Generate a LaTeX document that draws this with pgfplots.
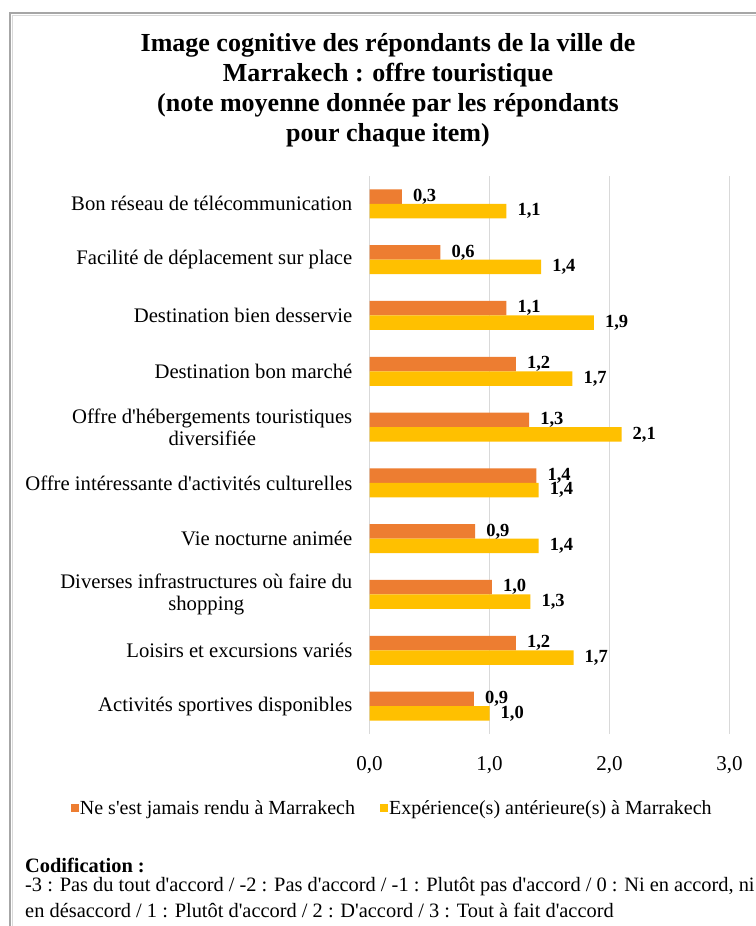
\documentclass[border=0pt]{standalone}
\usepackage{pgfplots}
\pgfplotsset{compat=1.18}
\usepackage{fontspec}
\setmainfont{Liberation Serif}[Ligatures=TeXOff]
\definecolor{orangebar}{HTML}{ED7D31}
\definecolor{yellowbar}{HTML}{FFC000}
\definecolor{gridgray}{HTML}{D9D9D9}
\definecolor{framegray}{HTML}{A6A6A6}
\begin{document}
\begin{tikzpicture}
\useasboundingbox (0pt,0pt) rectangle (755pt,926pt);
\fill[white] (0pt,0pt) rectangle (755pt,926pt);
% frame
\draw[framegray, line width=2.5pt] (10pt,0pt) -- (10pt,913pt) -- (756pt,913pt);
\draw[gridgray, line width=1pt] (12.5pt,0pt) -- (12.5pt,910.5pt) -- (756pt,910.5pt);
% title
\node[align=center, font=\fontsize{26}{30}\selectfont\bfseries] at (388pt,836pt)
  {Image cognitive des répondants de la ville de\\Marrakech : offre touristique\\(note moyenne donnée par les répondants\\pour chaque item)};
\begin{axis}[
  at={(369.5pt,192pt)}, anchor=south west,
  scale only axis, width=360pt, height=558pt,
  xbar, bar width=14.5pt,
  xmin=0, xmax=3, ymin=-0.5, ymax=9.5,
  xtick={0,1,2,3},
  ytick={0,...,9},
  yticklabels={Activités sportives disponibles,
    Loisirs et excursions variés,
    {Diverses infrastructures où faire du\\shopping},
    Vie nocturne animée,
    Offre intéressante d'activités culturelles,
    {Offre d'hébergements touristiques\\diversifiée},
    Destination bon marché,
    Destination bien desservie,
    Facilité de déplacement sur place,
    Bon réseau de télécommunication},
  /pgf/number format/.cd, use comma, fixed, fixed zerofill, precision=1, assume math mode=true,
  /pgfplots/.cd,
  major tick length=0pt,
  axis line style={draw=none},
  xmajorgrids, grid style={gridgray, line width=1.8pt},
  ymajorgrids=false,
  yticklabel style={align=center, inner sep=0pt, xshift=-17pt, font=\fontsize{20.7}{22}\selectfont},
  xticklabel style={inner sep=0pt, yshift=-22pt, font=\fontsize{21}{24}\selectfont},
  nodes near coords,
  point meta=x,
  every node near coord/.append style={anchor=west, inner sep=0pt, xshift=11pt, font=\fontsize{18.5}{20}\selectfont\bfseries, text=black},
  legend columns=2,
  legend style={draw=none, fill=none, at={(0.062,-0.1326)}, anchor=center,
    font=\fontsize{20}{22}\selectfont,
    /tikz/every even column/.append style={column sep=24pt},
    nodes={inner sep=1pt}},
  legend image code/.code={\fill[#1] (0pt,-4pt) rectangle (8pt,4pt);},
]
\addplot[fill=orangebar, draw=none, bar shift=7.25pt] coordinates {
  (0.87,0) (1.22,1) (1.02,2) (0.88,3) (1.39,4) (1.33,5) (1.22,6) (1.14,7) (0.59,8) (0.27,9)};
\addlegendentry{Ne s'est jamais rendu à Marrakech}
\addplot[fill=yellowbar, draw=none, bar shift=-7.25pt] coordinates {
  (1.00,0) (1.70,1) (1.34,2) (1.41,3) (1.41,4) (2.10,5) (1.69,6) (1.87,7) (1.43,8) (1.14,9)};
\addlegendentry{Expérience(s) antérieure(s) à Marrakech}
\end{axis}
% footnote
\node[anchor=west, inner sep=0pt, font=\fontsize{20.4}{22}\selectfont\bfseries] at (25pt,61pt) {Codification :};
\node[anchor=west, inner sep=0pt, font=\fontsize{20.4}{22}\selectfont] at (25pt,39pt) {-3 : Pas du tout d'accord / -2 : Pas d'accord / -1 : Plutôt pas d'accord / 0 : Ni en accord, ni};
\node[anchor=west, inner sep=0pt, font=\fontsize{20.4}{22}\selectfont] at (25pt,16pt) {en désaccord / 1 : Plutôt d'accord / 2 : D'accord / 3 : Tout à fait d'accord};
\end{tikzpicture}
\end{document}
